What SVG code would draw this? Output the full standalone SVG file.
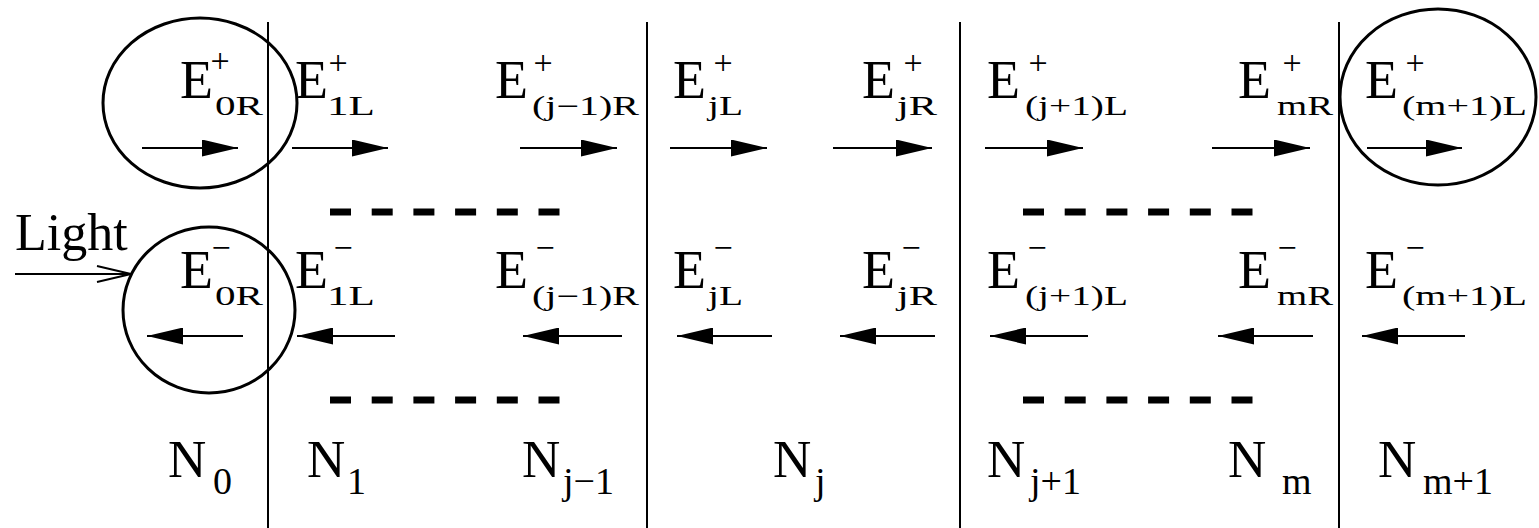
<svg xmlns="http://www.w3.org/2000/svg" width="1539" height="528" viewBox="0 0 1539 528">
<style>
.E{font-size:54px}
.sub{font-size:27px}
.sup{font-size:34px;text-anchor:middle}
.N{font-size:53px}
.nsub{font-size:38px}
.bound{stroke:#000;stroke-width:2}
.ring{fill:none;stroke:#000;stroke-width:3}
.arr{stroke:#000;stroke-width:1.8;marker-end:url(#head)}
.dash{stroke:#000;stroke-width:7;stroke-dasharray:21 20.7}
</style>
<defs>
<marker id="head" markerUnits="userSpaceOnUse" viewBox="0 0 36 17" refX="36" refY="8.5" markerWidth="36" markerHeight="17" orient="auto">
<path d="M0,0 L36,8.5 L0,17 Z" fill="#000"/>
</marker>
</defs>
<rect width="1539" height="528" fill="#fff"/>
<g id="boundaries">
<line class="bound" x1="268" y1="22" x2="268" y2="528"/>
<line class="bound" x1="647" y1="22" x2="647" y2="528"/>
<line class="bound" x1="960" y1="22" x2="960" y2="528"/>
<line class="bound" x1="1339" y1="22" x2="1339" y2="528"/>
</g>
<g id="rings">
<ellipse class="ring" cx="200" cy="103" rx="97" ry="85"/>
<ellipse class="ring" cx="1438" cy="97" rx="98" ry="88"/>
<ellipse class="ring" cx="209" cy="310" rx="86" ry="83"/>
</g>
<g font-family="Liberation Serif" fill="#000">
<g id="light">
<text x="15" y="250" font-size="52">Light</text>
<line x1="15" y1="274" x2="131" y2="274" stroke="#000" stroke-width="1.8"/>
<polyline points="97,266 131,274 97,282" fill="none" stroke="#000" stroke-width="1.8"/>
</g>
<g id="E0R_plus"><text class="E" x="180" y="98">E</text><text class="sup" x="220" y="72">+</text><text class="sub" x="215" y="115" textLength="48" lengthAdjust="spacingAndGlyphs">0R</text></g>
<g id="E1L_plus"><text class="E" x="295" y="98">E</text><text class="sup" x="338" y="74">+</text><text class="sub" x="327" y="115" textLength="48" lengthAdjust="spacingAndGlyphs">1L</text></g>
<g id="Ej-1R_plus"><text class="E" x="495" y="98">E</text><text class="sup" x="543" y="74">+</text><text class="sub" x="532" y="115" textLength="107" lengthAdjust="spacingAndGlyphs">(j−1)R</text></g>
<g id="EjL_plus"><text class="E" x="673" y="98">E</text><text class="sup" x="723" y="74">+</text><text class="sub" x="708" y="115" textLength="35" lengthAdjust="spacingAndGlyphs">jL</text></g>
<g id="EjR_plus"><text class="E" x="862" y="98">E</text><text class="sup" x="913" y="74">+</text><text class="sub" x="897" y="115" textLength="40" lengthAdjust="spacingAndGlyphs">jR</text></g>
<g id="Ej+1L_plus"><text class="E" x="987" y="98">E</text><text class="sup" x="1038" y="74">+</text><text class="sub" x="1025" y="115" textLength="103" lengthAdjust="spacingAndGlyphs">(j+1)L</text></g>
<g id="EmR_plus"><text class="E" x="1238" y="98">E</text><text class="sup" x="1292" y="74">+</text><text class="sub" x="1277" y="115" textLength="56" lengthAdjust="spacingAndGlyphs">mR</text></g>
<g id="Em+1L_plus"><text class="E" x="1365" y="98">E</text><text class="sup" x="1415" y="74">+</text><text class="sub" x="1402" y="115" textLength="125" lengthAdjust="spacingAndGlyphs">(m+1)L</text></g>
<g id="E0R_minus"><text class="E" x="180" y="288">E</text><text class="sup" x="221" y="259">−</text><text class="sub" x="215" y="305" textLength="48" lengthAdjust="spacingAndGlyphs">0R</text></g>
<g id="E1L_minus"><text class="E" x="295" y="288">E</text><text class="sup" x="343" y="259">−</text><text class="sub" x="327" y="305" textLength="48" lengthAdjust="spacingAndGlyphs">1L</text></g>
<g id="Ej-1R_minus"><text class="E" x="495" y="288">E</text><text class="sup" x="545" y="259">−</text><text class="sub" x="532" y="305" textLength="107" lengthAdjust="spacingAndGlyphs">(j−1)R</text></g>
<g id="EjL_minus"><text class="E" x="673" y="288">E</text><text class="sup" x="723" y="259">−</text><text class="sub" x="708" y="305" textLength="35" lengthAdjust="spacingAndGlyphs">jL</text></g>
<g id="EjR_minus"><text class="E" x="862" y="288">E</text><text class="sup" x="911" y="259">−</text><text class="sub" x="897" y="305" textLength="40" lengthAdjust="spacingAndGlyphs">jR</text></g>
<g id="Ej+1L_minus"><text class="E" x="987" y="288">E</text><text class="sup" x="1037" y="259">−</text><text class="sub" x="1025" y="305" textLength="103" lengthAdjust="spacingAndGlyphs">(j+1)L</text></g>
<g id="EmR_minus"><text class="E" x="1238" y="288">E</text><text class="sup" x="1287" y="259">−</text><text class="sub" x="1277" y="305" textLength="56" lengthAdjust="spacingAndGlyphs">mR</text></g>
<g id="Em+1L_minus"><text class="E" x="1365" y="288">E</text><text class="sup" x="1415" y="259">−</text><text class="sub" x="1402" y="305" textLength="125" lengthAdjust="spacingAndGlyphs">(m+1)L</text></g>
<g id="N0"><text class="N" x="168" y="477">N</text><text class="nsub" x="213" y="494">0</text></g>
<g id="N1"><text class="N" x="307" y="477">N</text><text class="nsub" x="347" y="494">1</text></g>
<g id="Nj-1"><text class="N" x="522" y="477">N</text><text class="nsub" x="563" y="494">j−1</text></g>
<g id="Nj"><text class="N" x="773" y="477">N</text><text class="nsub" x="815" y="494">j</text></g>
<g id="Nj+1"><text class="N" x="987" y="477">N</text><text class="nsub" x="1030" y="494">j+1</text></g>
<g id="Nm"><text class="N" x="1228" y="477">N</text><text class="nsub" x="1282" y="494">m</text></g>
<g id="Nm+1"><text class="N" x="1378" y="477">N</text><text class="nsub" x="1423" y="494">m+1</text></g>
</g>
<g id="ellipsis">
<line class="dash" x1="330" y1="212" x2="560" y2="212"/>
<line class="dash" x1="1023" y1="212" x2="1253" y2="212"/>
<line class="dash" x1="330" y1="400" x2="560" y2="400"/>
<line class="dash" x1="1023" y1="400" x2="1253" y2="400"/>
</g>
<g id="connectors">
<line class="arr" x1="142" y1="148" x2="238" y2="148"/>
<line class="arr" x1="292" y1="148" x2="388" y2="148"/>
<line class="arr" x1="520" y1="148" x2="617" y2="148"/>
<line class="arr" x1="670" y1="148" x2="767" y2="148"/>
<line class="arr" x1="833" y1="148" x2="932" y2="148"/>
<line class="arr" x1="985" y1="148" x2="1083" y2="148"/>
<line class="arr" x1="1212" y1="148" x2="1310" y2="148"/>
<line class="arr" x1="1367" y1="148" x2="1462" y2="148"/>
<line class="arr" x1="243" y1="336" x2="147" y2="336"/>
<line class="arr" x1="395" y1="336" x2="297" y2="336"/>
<line class="arr" x1="622" y1="336" x2="523" y2="336"/>
<line class="arr" x1="772" y1="336" x2="677" y2="336"/>
<line class="arr" x1="935" y1="336" x2="840" y2="336"/>
<line class="arr" x1="1088" y1="336" x2="990" y2="336"/>
<line class="arr" x1="1313" y1="336" x2="1218" y2="336"/>
<line class="arr" x1="1465" y1="336" x2="1362" y2="336"/>
</g>
</svg>
